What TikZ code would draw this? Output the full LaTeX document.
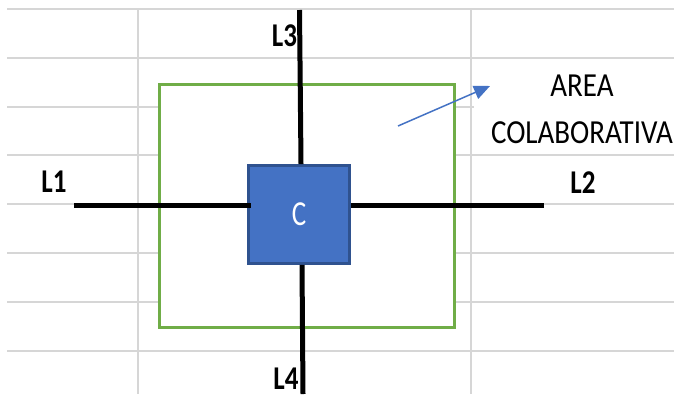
\documentclass[tikz,border=0pt]{standalone}
\usepackage{fontspec}
\setmainfont{Carlito}
\usetikzlibrary{arrows.meta}
\definecolor{gridgray}{HTML}{D6D6D6}
\definecolor{areagreen}{HTML}{70AD47}
\definecolor{cfill}{HTML}{4472C4}
\definecolor{cedge}{HTML}{2F528F}
\begin{document}
\begin{tikzpicture}[x=1pt,y=-1pt,
  gridline/.style={draw=gridgray,line width=2pt},
  zonebox/.style={draw=areagreen,fill=white,line width=3pt,inner sep=0pt},
  corebox/.style={draw=cedge,fill=cfill,line width=2.5pt,inner sep=0pt,
    text=white,font=\fontsize{27}{27}\selectfont},
  wire/.style={draw=black,line width=5pt},
  lbl/.style={font=\fontsize{27}{27}\selectfont\bfseries,anchor=base,inner sep=0pt},
  note/.style={font=\fontsize{29}{47}\selectfont,align=center,anchor=north,inner sep=0pt},
  pointer/.style={draw=cfill,line width=1.5pt,-{Triangle[length=16pt,width=14pt]}}]
\useasboundingbox (0,0) rectangle (674,394);
% sheet grid
\foreach \yy in {9,58,107,155,204,253,302,351}
  \draw[gridline] (7,\yy) -- (674,\yy);
\foreach \xx in {138,471}
  \draw[gridline] (\xx,9) -- (\xx,394);
% collaborative area and its caption
\node[zonebox,minimum width=295pt,minimum height=243pt] (zone) at (307,206.2) {};
\fill[white] (473.5,62) rectangle (674,151);
\node[note] (caption) at (582,75)
  {\scalebox{1}[1.16]{AREA}\\\scalebox{1}[1.16]{COLABORATIVA}};
\coordinate (ptail) at (398,126);
\coordinate (phead) at (490,86);
\draw[pointer] (ptail) -- (phead);
% line ends
\coordinate (e1) at (74,205.5);
\coordinate (e2) at (544,205.5);
\coordinate (e3) at (299.5,10);
\coordinate (e4) at (303,394);
% centre
\node[corebox,minimum width=101.4pt,minimum height=98.4pt] (c) at (299,214.5)
  {\raisebox{-3pt}{\scalebox{1}[1.3]{C}}};
\draw[wire] (e1) -- ([xshift=4pt]c.west |- e1);
\draw[wire] (e2) -- (c.east |- e2);
\draw[wire] (e3) -- ([xshift=2pt]c.north);
\draw[wire] (e4) -- ([xshift=3pt]c.south);
% labels
\node[lbl] (l1) at (54,192) {\scalebox{1}[1.23]{L1}};
\node[lbl] (l2) at (583,193) {\scalebox{1}[1.23]{L2}};
\node[lbl] (l3) at (284.5,46) {\scalebox{1}[1.23]{L3}};
\node[lbl] (l4) at (286,389) {\scalebox{1}[1.23]{L4}};
\end{tikzpicture}
\end{document}
